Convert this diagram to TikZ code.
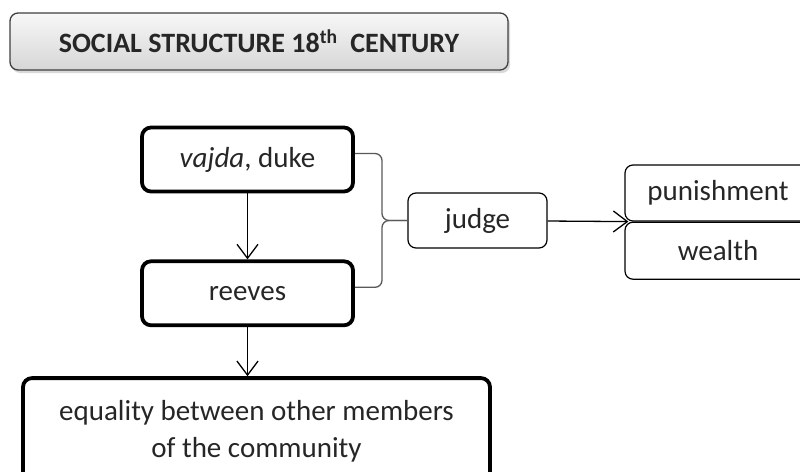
\documentclass[tikz,border=0pt]{standalone}
\usepackage{fontspec}
\setmainfont{Carlito}
\usepackage{tikz}
\usetikzlibrary{calc}
\usetikzlibrary{arrows.meta,shadows}
\usetikzlibrary{positioning}

\begin{document}
\begin{tikzpicture}[x=1pt, y=-1pt, font=\fontsize{29}{37}\selectfont, text=black!85,
		main/.style = {draw, line width=3.8pt, rounded corners=9pt, minimum width=211pt, minimum height=64pt},
		slim/.style = {draw, line width=1.2pt, rounded corners=8pt, minimum height=56pt},
		titlebox/.style = {draw=black!75, line width=1.3pt, rounded corners=8pt, top color=gray!6, bottom color=gray!32,
			drop shadow={opacity=0.3, shadow xshift=2pt, shadow yshift=-3pt},
			minimum width=498pt, minimum height=57pt, font=\bfseries\fontsize{28}{32}\selectfont},
		vee/.style = {line width=1.3pt, -{Straight Barb[length=14pt, width=21pt]}},
		brace/.style = {draw=black!65, line width=1.3pt, rounded corners=7pt}]
		\useasboundingbox (0,0) rectangle (800,471);
		\clip (0,0) rectangle (800,471);
		
		\node[titlebox] (title) at (259,41.5) {SOCIAL STRUCTURE 18\textsuperscript{th}\ \ CENTURY};
		
		\node[main] (duke) at (247.5,159.5) {\textit{vajda}, duke};
		\node[main] (reeves) [below = 66pt of duke] {reeves};
		\node[main, minimum width=467pt, minimum height=106pt, align=center] (equal) [below = 49pt of reeves, xshift=9pt]
			{equality between other members\\of the community};
		
		\node[slim, minimum width=139pt, minimum height=55pt] (judge) at (477.5,220.5) {judge};
		\node[slim, minimum width=186pt] (punish) at (718,193) {punishment};
		\node[slim, minimum width=186pt, minimum height=57pt] (wealth) [below = 0pt of punish] {wealth};
		
		\coordinate (bx) at (382,220.5);
		\coordinate (pw) at ($(punish.south west)+(4,0)$);
		
		% brace from the two ranks to the judge
		\draw[brace] ([yshift=6pt]duke.east) -| (bx) -- (judge.west);
		\draw[brace] ([yshift=6pt]reeves.east) -| (bx) -- (judge.west);
		
		\draw[vee] (duke) -- (reeves);
		\draw[vee] (reeves.south) -- (reeves.south |- equal.north);
		\draw[vee] (judge) -- (pw);
	\end{tikzpicture}
\end{document}
